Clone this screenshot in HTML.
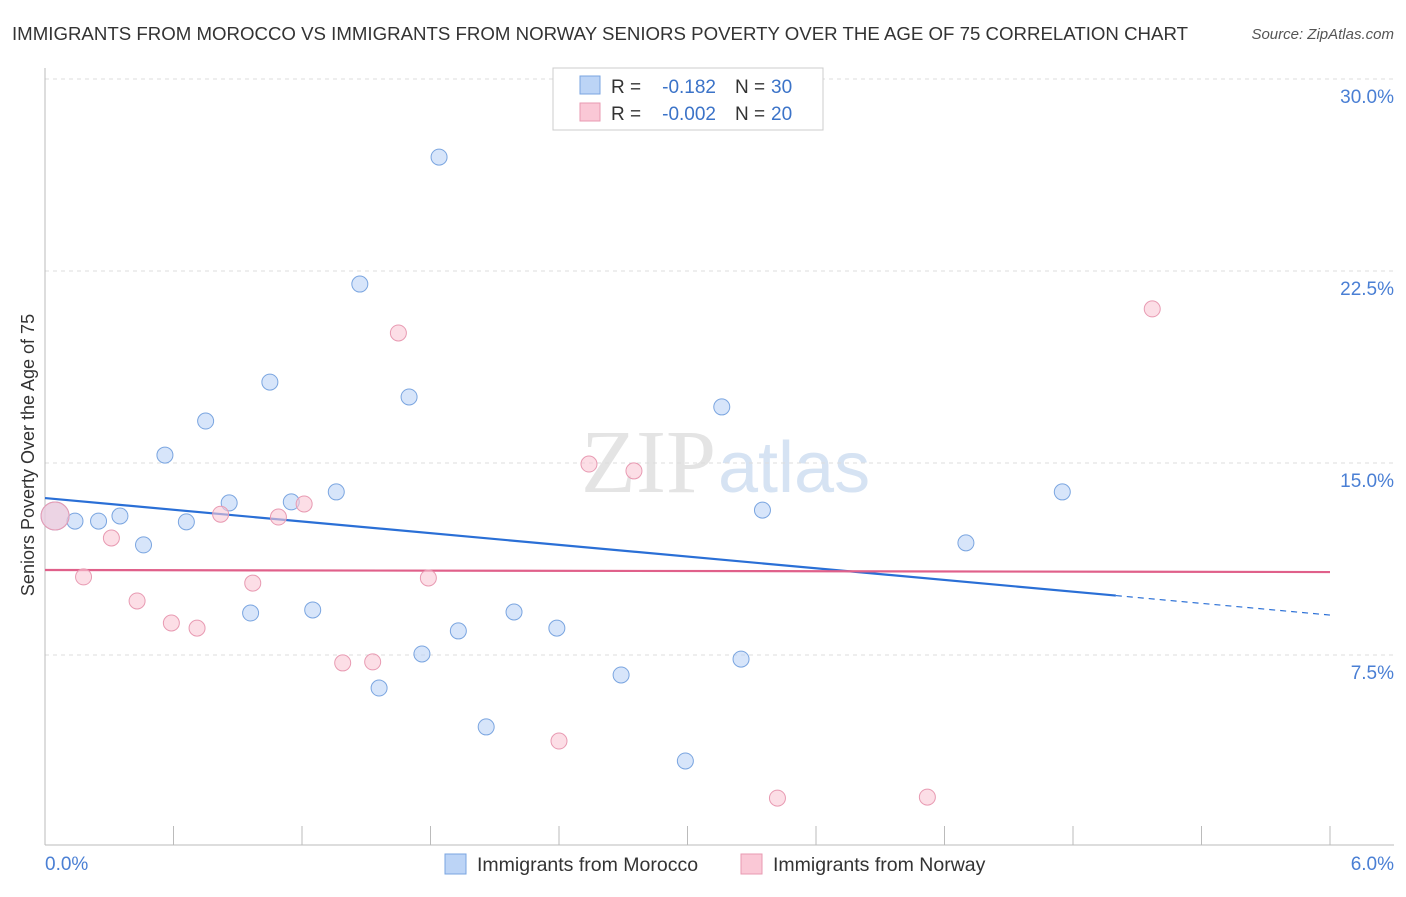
<!DOCTYPE html>
<html><head><meta charset="utf-8"><style>
body{margin:0;background:#fff;font-family:"Liberation Sans",sans-serif;}
</style></head><body>
<svg width="1406" height="892" xmlns="http://www.w3.org/2000/svg">
<text x="12" y="40" font-size="18.5" fill="#333" textLength="1176" lengthAdjust="spacingAndGlyphs">IMMIGRANTS FROM MOROCCO VS IMMIGRANTS FROM NORWAY SENIORS POVERTY OVER THE AGE OF 75 CORRELATION CHART</text>
<text x="1394" y="39" font-size="15" fill="#555" font-style="italic" text-anchor="end">Source: ZipAtlas.com</text>
<text x="716" y="492" font-size="90" fill="#e4e4e4" text-anchor="end" font-family="Liberation Serif">ZIP</text>
<text x="718" y="492" font-size="72" fill="#d6e3f3">atlas</text>
<g id="grid"></g><g id="axes"></g><g id="lines"></g><g id="pts"></g>
<text transform="translate(34,455) rotate(-90)" font-size="18" fill="#333" text-anchor="middle">Seniors Poverty Over the Age of 75</text>
<text x="45" y="870" font-size="19" fill="#4a7fd4">0.0%</text>
<text x="1394" y="870" font-size="19" fill="#4a7fd4" text-anchor="end">6.0%</text>
<g>
<rect x="553" y="68" width="270" height="62" fill="#fff" stroke="#ccc"/>
<rect x="580" y="76" width="20" height="18" fill="#bcd4f6" stroke="#7aa5e0"/>
<text x="611" y="93" font-size="19" fill="#333">R =</text>
<text x="716" y="93" font-size="19" fill="#3b73c8" text-anchor="end">-0.182</text>
<text x="735" y="93" font-size="19" fill="#333">N =</text>
<text x="771" y="93" font-size="19" fill="#3b73c8">30</text>
<rect x="580" y="103" width="20" height="18" fill="#fac8d6" stroke="#e89ab2"/>
<text x="611" y="120" font-size="19" fill="#333">R =</text>
<text x="716" y="120" font-size="19" fill="#3b73c8" text-anchor="end">-0.002</text>
<text x="735" y="120" font-size="19" fill="#333">N =</text>
<text x="771" y="120" font-size="19" fill="#3b73c8">20</text>
</g>
<g>
<rect x="445" y="854" width="21" height="20" fill="#bcd4f6" stroke="#7aa5e0"/>
<text x="477" y="871" font-size="19.5" fill="#333">Immigrants from Morocco</text>
<rect x="741" y="854" width="21" height="20" fill="#fac8d6" stroke="#e89ab2"/>
<text x="773" y="871" font-size="19.5" fill="#333">Immigrants from Norway</text>
</g>
</svg>
<script>
const yTicks=[7.5,15,22.5,30];
const yTickLabels=["7.5%","15.0%","22.5%","30.0%"];
const moroccoX=[0.047,0.14,0.25,0.35,0.46,0.56,0.66,0.75,0.86,0.96,1.05,1.15,1.25,1.36,1.47,1.56,1.70,1.76,1.84,1.93,2.06,2.19,2.39,2.69,2.99,3.16,3.25,3.35,4.30,4.75];
const moroccoY=[12.93,12.73,12.73,12.93,11.8,15.31,12.7,16.64,13.44,9.14,18.16,13.48,9.26,13.87,21.99,6.21,17.58,7.54,26.95,8.44,4.69,9.18,8.55,6.72,3.36,17.19,7.34,13.16,11.88,13.87];
const norwayX=[0.047,0.18,0.31,0.43,0.59,0.71,0.82,0.97,1.09,1.21,1.39,1.53,1.65,1.79,2.40,2.54,2.75,3.42,4.12,5.17];
const norwayY=[12.93,10.55,12.07,9.61,8.75,8.55,13.0,10.31,12.89,13.4,7.19,7.23,20.08,10.51,4.14,14.96,14.69,1.91,1.95,21.02];
const moroccoTrend=[13.63,9.06];
const norwayTrend=[10.82,10.74];
const NS="http://www.w3.org/2000/svg";
const xs=v=>45+v/6*1285, ys=v=>847-v*25.6;
function mk(t,a,p){const e=document.createElementNS(NS,t);for(const k in a)e.setAttribute(k,a[k]);document.getElementById(p).appendChild(e);return e;}
yTicks.forEach((t,i)=>{
 const g=mk('line',{x1:45,x2:1394,y1:ys(t),y2:ys(t),stroke:'#ddd','stroke-dasharray':'4,4'},'grid');
 
 
 const l=mk('text',{x:1394,y:ys(t)+24,'font-size':19,fill:'#4a7fd4','text-anchor':'end'},'grid');
 l.textContent=yTickLabels[i];
 
 
});
const ax=mk('line',{x1:45,x2:1394,y1:845,y2:845,stroke:'#bbb'},'axes');


const ay=mk('line',{x1:45,x2:45,y1:68,y2:845,stroke:'#bbb'},'axes');


for(let i=1;i<=10;i++){const t=mk('line',{x1:xs(i*0.6),x2:xs(i*0.6),y1:826,y2:845,stroke:'#bbb'},'axes');
 
 }
function trend(v,color,name,solidTo){
 const f=x=>v[0]+(v[1]-v[0])*x/6;
 const a=mk('line',{x1:xs(0),y1:ys(f(0)),x2:xs(solidTo),y2:ys(f(solidTo)),stroke:color,'stroke-width':2.2},'lines');
 
 
 if(solidTo<6){const b=mk('line',{x1:xs(solidTo),y1:ys(f(solidTo)),x2:xs(6),y2:ys(f(6)),stroke:color,'stroke-width':1.2,'stroke-dasharray':'6,5'},'lines');
 
 }
}
function pts(X,Y,fill,stroke,name){X.forEach((x,i)=>{
 const c=mk('circle',{cx:xs(x),cy:ys(Y[i]),r:i==0?14:8,fill:fill,'fill-opacity':0.6,stroke:stroke,'stroke-width':1},'pts');
 
 });}
pts(moroccoX,moroccoY,'#bcd4f6','#7aa5e0','morocco-point');
pts(norwayX,norwayY,'#fac8d6','#e89ab2','norway-point');
trend(moroccoTrend,'#2a6fd6','morocco-trend-line',5);
trend(norwayTrend,'#e0608a','norway-trend-line',6);
</script>
</body></html>
